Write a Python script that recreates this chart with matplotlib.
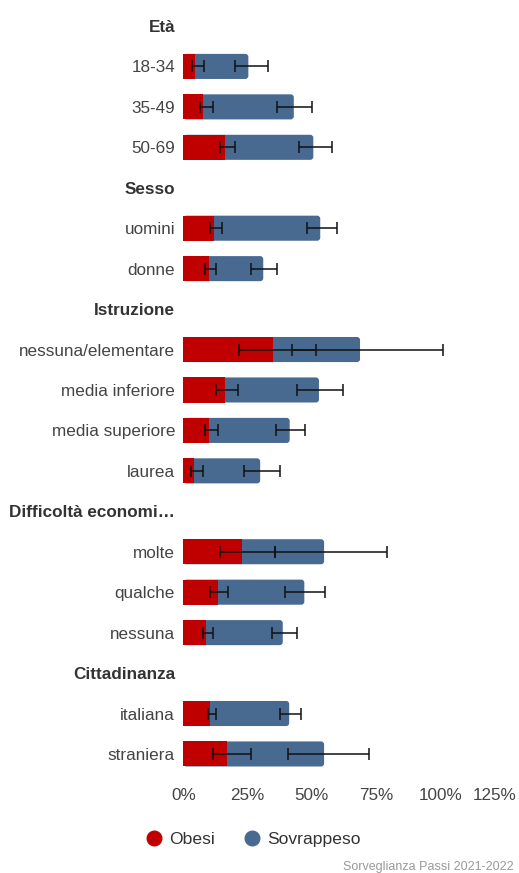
import numpy as np
import matplotlib.pyplot as plt
from matplotlib.patches import FancyBboxPatch
from matplotlib.lines import Line2D

plt.rcParams['font.family'] = ['Liberation Sans', 'DejaVu Sans']

# groups and their categories
groups = ["Età", "Sesso", "Istruzione", "Difficoltà economi…", "Cittadinanza"]
categories = [
    ["18-34", "35-49", "50-69"],
    ["uomini", "donne"],
    ["nessuna/elementare", "media inferiore", "media superiore", "laurea"],
    ["molte", "qualche", "nessuna"],
    ["italiana", "straniera"],
]

# percentages with confidence intervals
obesi = [4.7, 7.8, 16.1, 11.8, 9.9, 34.8, 16.1, 9.9, 4.1, 22.8, 13.5, 8.8, 10.4, 17.1]
obesi_lo = [3.4, 6.5, 14.4, 10.2, 8.6, 21.5, 12.6, 8.6, 2.8, 14.2, 10.5, 7.6, 9.6, 11.6]
obesi_hi = [8.2, 11.7, 20.1, 15.0, 12.6, 51.5, 21.1, 13.4, 7.7, 35.7, 17.5, 11.4, 12.7, 26.3]
sovrappeso = [25.3, 43.0, 50.6, 53.3, 31.1, 68.8, 52.8, 41.4, 29.9, 54.8, 47.1, 38.7, 41.2, 54.8]
sovrappeso_lo = [20.0, 36.5, 44.9, 48.0, 26.3, 42.3, 44.3, 36.1, 23.6, 35.7, 39.6, 34.4, 37.7, 40.6]
sovrappeso_hi = [33.0, 50.1, 57.8, 59.9, 36.4, 101.2, 62.3, 47.4, 37.5, 79.4, 55.1, 44.4, 45.9, 72.3]

xticks = [0, 25, 50, 75, 100, 125]

RED = "#c00000"
BLUE = "#486a91"

# row layout: one header row per group, then its categories
labels, header_rows, bar_rows = [], [], []
row = 0
for g, cats in zip(groups, categories):
    labels.append(g)
    header_rows.append(row)
    row += 1
    for c in cats:
        labels.append(c)
        bar_rows.append(row)
        row += 1
n_rows = row
bar_rows = np.array(bar_rows)

fig = plt.figure(figsize=(5.19, 8.73), dpi=100)
ax = fig.add_axes([0.3534, 0.1132, 0.6183, 0.8802])

h = 0.62
blue_bars = ax.barh(bar_rows, sovrappeso, height=h, color=BLUE, zorder=2)
# rounded ends on the blue bars
aspect = (1 / 40.44) / (125 / 320.9)
for p in list(blue_bars):
    x0, y0 = p.get_x(), p.get_y()
    w, hh = p.get_width(), p.get_height()
    p.remove()
    ax.add_patch(FancyBboxPatch((x0, y0), w, hh,
                                boxstyle="round,pad=0,rounding_size=1.2",
                                mutation_aspect=aspect, fc=BLUE, ec="none",
                                zorder=2))
ax.barh(bar_rows, obesi, height=h, color=RED, zorder=3)

ob = np.array(obesi)
sv = np.array(sovrappeso)
ax.errorbar(ob, bar_rows,
            xerr=[ob - np.array(obesi_lo), np.array(obesi_hi) - ob],
            fmt='none', ecolor="#111111", elinewidth=1.1, capsize=4.5,
            capthick=1.1, zorder=4)
ax.errorbar(sv, bar_rows,
            xerr=[sv - np.array(sovrappeso_lo), np.array(sovrappeso_hi) - sv],
            fmt='none', ecolor="#111111", elinewidth=1.1, capsize=4.5,
            capthick=1.1, zorder=4)

ax.set_xlim(0, 125)
ax.set_ylim(n_rows - 0.5, -0.5)
ax.set_yticks(range(n_rows))
ax.set_yticklabels(labels, fontsize=12.3, color="#444444")
for r in header_rows:
    t = ax.get_yticklabels()[r]
    t.set_fontweight("bold")
    t.set_color("#333333")
ax.set_xticks(xticks)
xlabels = [f"{v}%" for v in xticks]
ax.set_xticklabels(xlabels[:-1] + [""], fontsize=12.3, color="#444444")
# last label pushed right so it stays inside the figure
ax.annotate(xlabels[-1], xy=(xticks[-1], 0), xycoords=ax.get_xaxis_transform(),
            xytext=(9, -10), textcoords="offset points", ha="right", va="top",
            fontsize=12.3, color="#444444")
ax.tick_params(axis="both", length=0)
ax.tick_params(axis="y", pad=6)
ax.tick_params(axis="x", pad=10)
for s in ax.spines.values():
    s.set_visible(False)

handles = [
    Line2D([], [], marker="o", ls="none", ms=10.5, mfc=RED, mec=RED),
    Line2D([], [], marker="o", ls="none", ms=10.5, mfc=BLUE, mec=BLUE),
]
leg = fig.legend(handles, ["Obesi", "Sovrappeso"], loc="center",
                 bbox_to_anchor=(252 / 519, 1 - 839 / 873), ncol=2,
                 frameon=False, fontsize=12.6, handletextpad=0.3,
                 columnspacing=1.5, handlelength=1.2)
for t in leg.get_texts():
    t.set_color("#333333")

fig.text(514 / 519, 1 - 867 / 873, "Sorveglianza Passi 2021-2022",
         ha="right", va="center", fontsize=9, color="#999999")

fig.savefig("out.png", dpi=100)
